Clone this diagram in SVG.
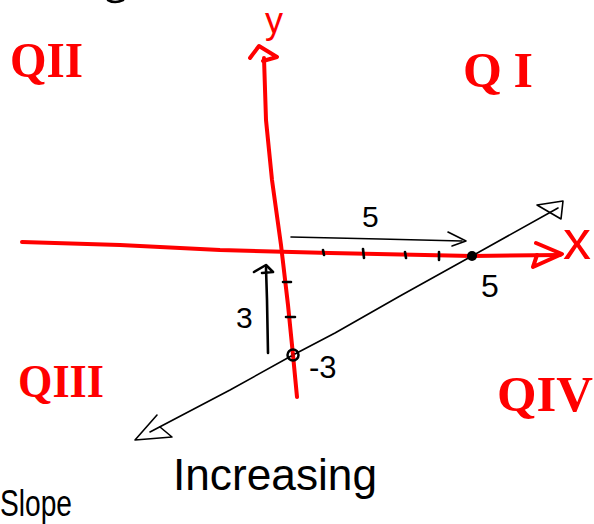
<svg xmlns="http://www.w3.org/2000/svg" width="594" height="524" viewBox="0 0 594 524">
<style>
.red{fill:none;stroke:#ff0000;stroke-width:4;stroke-linecap:round;stroke-linejoin:round}
.blk{fill:none;stroke:#000;stroke-width:1.6;stroke-linecap:round;stroke-linejoin:round}
.blk2{fill:none;stroke:#000;stroke-width:2.6;stroke-linecap:round;stroke-linejoin:round}
.q{font-family:"Liberation Serif",serif;font-weight:bold;fill:#ff0000}
.lab{font-family:"Liberation Sans",sans-serif;fill:#000}
.axl{font-family:"Liberation Sans",sans-serif;fill:#ff0000}
</style>
<rect width="594" height="524" fill="#fff"/>
<path class="blk2" d="M108,0 Q115,4 123,0"/>
<g id="quadrants">
<text class="q" x="10" y="77" font-size="50" textLength="73" lengthAdjust="spacingAndGlyphs">QII</text>
<text class="q" x="463" y="87" font-size="50" textLength="70" lengthAdjust="spacing">QI</text>
<text class="q" x="18" y="397" font-size="46" textLength="86" lengthAdjust="spacingAndGlyphs">QIII</text>
<text class="q" x="497" y="411" font-size="50" textLength="96" lengthAdjust="spacingAndGlyphs">QIV</text>
</g>
<g id="axes">
<path class="red" d="M22,242 L120,245 L220,250 L330,253 L472,256 L560,255"/>
<path class="red" d="M536,243 L562,254 L533,267 L537,255"/>
<text class="axl" x="563" y="259" font-size="56">x</text>
<path class="red" d="M264,58 L266,120 L272,180 L281,245 L288,305 L293,355 L297,397"/>
<path class="red" d="M250,58 L259,46 L277,57 L263,61"/>
<text class="axl" x="265" y="33" font-size="36">y</text>
</g>
<g id="ticks">
<path class="blk2" d="M323,250 L324,255 M363,249 L364,258 M405,252 L406,258 M439,252 L439,260"/>
<path class="blk2" d="M283,282 L291,282 M286,317 L295,317"/>
</g>
<g id="connectors">
<path class="blk" d="M150,432 L230,390 L293,355 L335,333 L400,296 L472,256 L558,208"/>
<path class="blk" d="M537,205 L563,201 L561,219 Z"/>
<path class="blk" d="M157,415 L135,440 L172,437 L160,427"/>
<path class="blk" d="M291,237 L380,239 L462,241"/>
<path class="blk" d="M448,232 L466,241 L452,246"/>
<path class="blk2" d="M268,353 L267,300 L266,268"/>
<path class="blk2" d="M254,272 L266,265 L273,272 L262,273"/>
</g>
<g id="points">
<circle cx="472" cy="256" r="5" fill="#000"/>
<circle cx="293" cy="355" r="5.5" fill="none" stroke="#000" stroke-width="2.5"/>
<circle cx="293" cy="355" r="2" fill="#c00"/>
</g>
<g id="labels">
<text class="lab" x="362" y="227" font-size="30">5</text>
<text class="lab" x="481" y="297" font-size="32">5</text>
<text class="lab" x="236" y="328" font-size="30">3</text>
<text class="lab" x="309" y="378" font-size="31">-3</text>
<text class="lab" x="173" y="490" font-size="44" textLength="204" lengthAdjust="spacingAndGlyphs">Increasing</text>
<text class="lab" x="0" y="516" font-size="36" textLength="72" lengthAdjust="spacingAndGlyphs">Slope</text>
</g>
</svg>
